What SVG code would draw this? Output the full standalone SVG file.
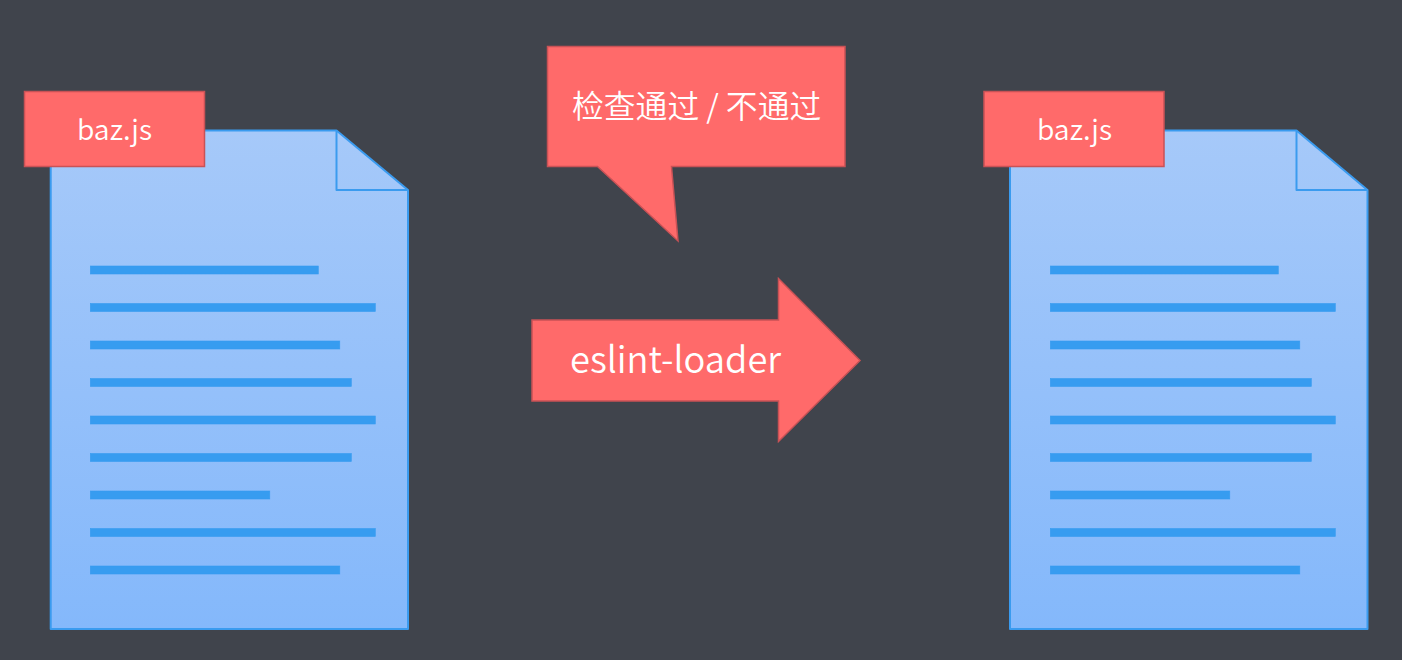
<svg xmlns="http://www.w3.org/2000/svg" width="1402" height="660" viewBox="0 0 1402 660">
<style>
.doc{fill:url(#g);stroke:#3a9bef;stroke-width:2;stroke-linejoin:round}
.fold{fill:none;stroke:#3a9bef;stroke-width:2;stroke-linejoin:round}
.ln{fill:#379cf0;stroke:#379cf0;stroke-width:.6}
.red{fill:#ff6a6a;stroke:#c95256;stroke-width:1.5}
text{font-family:"Noto Sans CJK SC","Noto Sans",sans-serif;fill:#fff;font-weight:350}
.lb{font-size:28.300px;text-anchor:middle}
.big{font-size:36.300px}
.cn{font-size:31.800px}
</style>
<defs>
<linearGradient id="g" x1="0" y1="0" x2="0" y2="1"><stop offset="0" stop-color="#a6c9f9"/><stop offset="1" stop-color="#84b8fb"/></linearGradient>
<g id="lines">
<rect class="ln" x="90.300" y="266" width="228" height="8"/>
<rect class="ln" x="90.300" y="303.500" width="285" height="8"/>
<rect class="ln" x="90.300" y="341" width="249.500" height="8"/>
<rect class="ln" x="90.300" y="378.500" width="261" height="8"/>
<rect class="ln" x="90.300" y="416" width="285" height="8"/>
<rect class="ln" x="90.300" y="453.500" width="261" height="8"/>
<rect class="ln" x="90.300" y="491" width="179.500" height="8"/>
<rect class="ln" x="90.300" y="528.500" width="285" height="8"/>
<rect class="ln" x="90.300" y="566" width="249.500" height="8"/>
</g>
</defs>
<rect width="1402" height="660" fill="#40444c"/>
<g id="doc-left">
<path class="doc" d="M50.700 130.500H336.500L408 190V629H50.700Z"/>
<path class="fold" d="M336.500 130.500V190H408"/>
<use href="#lines"/>
<rect class="red" x="24.500" y="91.500" width="180" height="75"/>
<text class="lb" x="114.500" y="140">baz.js</text>
</g>
<g id="doc-right">
<path class="doc" d="M1010 130.500H1296.500L1367.500 190V629H1010Z"/>
<path class="fold" d="M1296.500 130.500V190H1367.500"/>
<use href="#lines" x="960"/>
<rect class="red" x="984" y="91.500" width="180" height="75"/>
<text class="lb" x="1074.500" y="140">baz.js</text>
</g>
<g id="callout">
<path class="red" d="M547.500 46.500H845V166.500H671.500L678 241L597.500 166.500H547.500Z"/>
<text class="cn" x="572" y="118">检查通过 / 不通过</text>
</g>
<g id="arrow">
<path class="red" d="M532 320H778.500V278.500L860 360.500L778.500 441.500V401H532Z"/>
<text class="big" x="570" y="373">eslint-loader</text>
</g>
<g id="connectors"/>
</svg>
